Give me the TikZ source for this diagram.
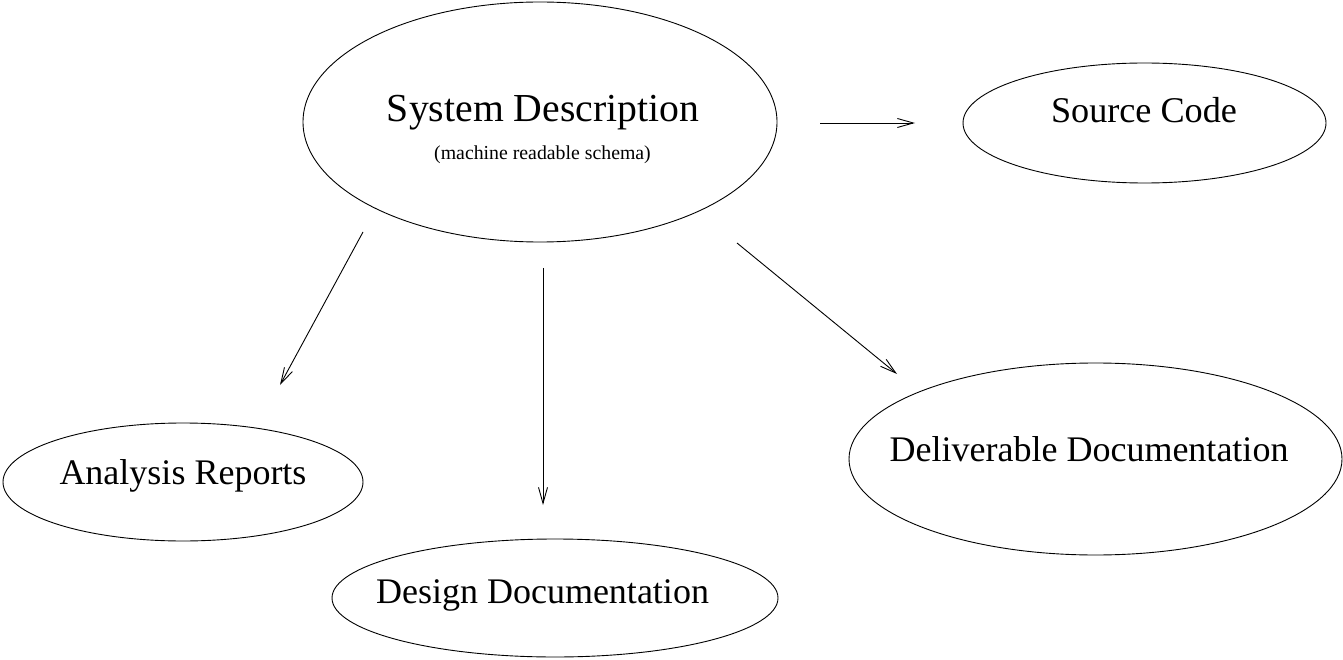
\documentclass[tikz,border=0pt]{standalone}
\usepackage{fontspec}
\setmainfont{Liberation Serif}
\usetikzlibrary{shapes.geometric,arrows.meta}
\tikzset{
  bubble/.style={ellipse, draw, line width=0.9pt, inner sep=0pt},
  caption/.style={anchor=base, inner sep=0pt},
  flow/.style={line width=0.9pt, -{Straight Barb[length=16pt,width=9pt,line width=0.9pt]}},
}
\newcommand{\fs}[1]{\fontsize{#1}{#1}\selectfont}
\begin{document}
\begin{tikzpicture}[x=1pt,y=-1pt]
  \useasboundingbox (0,0) rectangle (1343,660);

  % outlines
  \node[bubble, minimum width=474pt, minimum height=240pt] (sys) at (540,122) {};
  \node[bubble, minimum width=363pt, minimum height=120pt] (src) at (1144.5,123) {};
  \node[bubble, minimum width=360pt, minimum height=118pt] (ana) at (183,482) {};
  \node[bubble, minimum width=446pt, minimum height=118pt] (des) at (555,598) {};
  \node[bubble, minimum width=493pt, minimum height=192pt] (del) at (1095.5,459) {};

  % labels
  \node[caption] (sysT) at (543,122) {\fs{39.7}System Description};
  \node[caption] (sysS) at (542.5,160) {\fs{19.8}(machine readable schema)};
  \node[caption] (srcT) at (1144,123) {\fs{36.2}Source Code};
  \node[caption] (anaT) at (183,484) {\fs{36}Analysis Reports};
  \node[caption] (desT) at (542.5,603) {\fs{36}Design Documentation};
  \node[caption] (delT) at (1089,461) {\fs{36}Deliverable Documentation};

  % arrow end points
  \coordinate (toSrcA) at (820,123);
  \coordinate (toSrcB) at (915,123);
  \coordinate (toAnaA) at (363,232);
  \coordinate (toAnaB) at (280,385);
  \coordinate (toDesA) at (543,268);
  \coordinate (toDesB) at (543,505);
  \coordinate (toDelA) at (737,243);
  \coordinate (toDelB) at (897,374);

  \draw[flow] (toSrcA) -- (toSrcB);
  \draw[flow] (toAnaA) -- (toAnaB);
  \draw[flow] (toDesA) -- (toDesB);
  \draw[flow] (toDelA) -- (toDelB);
\end{tikzpicture}
\end{document}
